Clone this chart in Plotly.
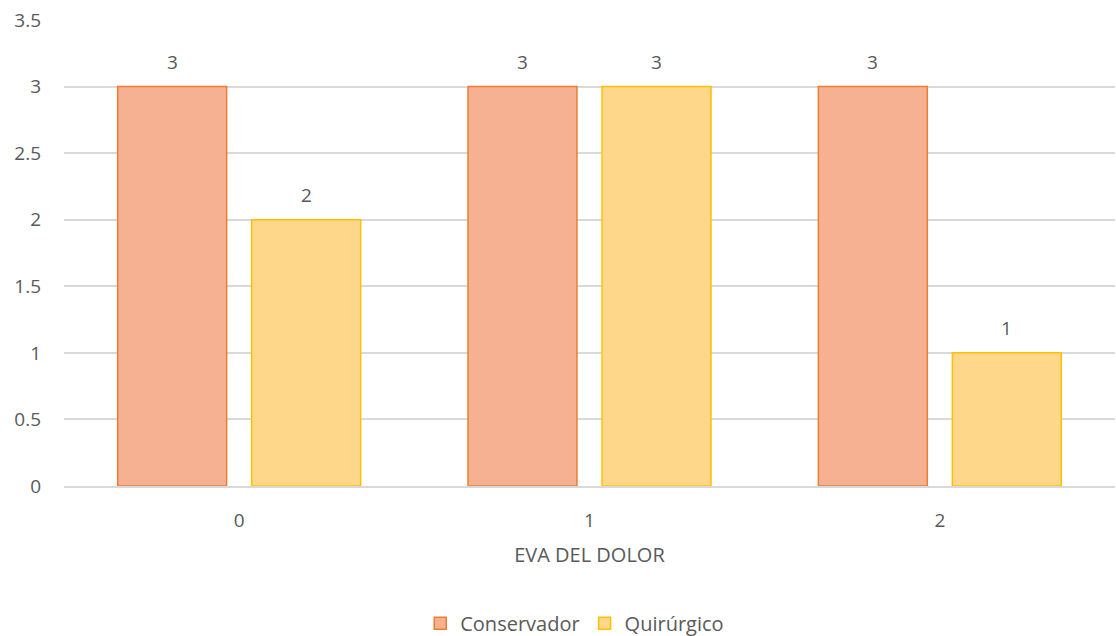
import plotly.graph_objects as go

categories = ["0", "1", "2"]
conservador = [3, 3, 3]
quirurgico = [2, 3, 1]
y_ticks = [0, 0.5, 1, 1.5, 2, 2.5, 3, 3.5]
y_tick_labels = ["0", "0.5", "1", "1.5", "2", "2.5", "3", "3.5"]

FONT = "Open Sans"
GRAY = "#595959"
SIZE = 19

series = [
    ("Conservador", conservador, "#F6B193", "#ED7D31", -67),
    ("Quirúrgico", quirurgico, "#FED78A", "#FFC000", 67),
]

fig = go.Figure()
for name, values, fill, edge, shift in series:
    fig.add_trace(go.Bar(
        name=name, x=categories, y=values,
        marker=dict(color=fill, line=dict(color=edge, width=1.5)),
    ))
    # value labels floating above each bar
    for cat, v in zip(categories, values):
        fig.add_annotation(
            x=cat, y=v, xref="x", yref="y", text=str(v), showarrow=False,
            xshift=shift, yshift=25, yanchor="middle",
            font=dict(family=FONT, size=SIZE, color=GRAY),
        )

fig.update_layout(
    width=1116, height=636,
    margin=dict(l=64, r=1, t=20, b=150, autoexpand=False),
    paper_bgcolor="white", plot_bgcolor="white",
    barmode="group", bargap=0.235, bargroupgap=0.187,
    font=dict(family=FONT, size=SIZE, color=GRAY),
    showlegend=True,
    legend=dict(orientation="h", xref="container", yref="container",
                x=0.515, xanchor="center", y=0.02, yanchor="middle",
                font=dict(family=FONT, size=20, color=GRAY), itemwidth=30,
                traceorder="normal"),
)
fig.update_xaxes(
    type="category", showgrid=False, showline=True, linecolor="#D9D9D9", linewidth=1.5,
    ticks="", ticklabelstandoff=16, tickfont=dict(family=FONT, size=SIZE, color=GRAY),
    title=dict(text="EVA DEL DOLOR", font=dict(family=FONT, size=20, color=GRAY), standoff=16),
    automargin=False,
)
fig.update_yaxes(
    range=[0, 3.5], tickvals=y_ticks, ticktext=y_tick_labels,
    showgrid=True, gridcolor="#D9D9D9", gridwidth=1.5, zeroline=False,
    ticks="", ticklabelstandoff=22, tickfont=dict(family=FONT, size=SIZE, color=GRAY),
    automargin=False,
)

fig.write_html("out.html")
